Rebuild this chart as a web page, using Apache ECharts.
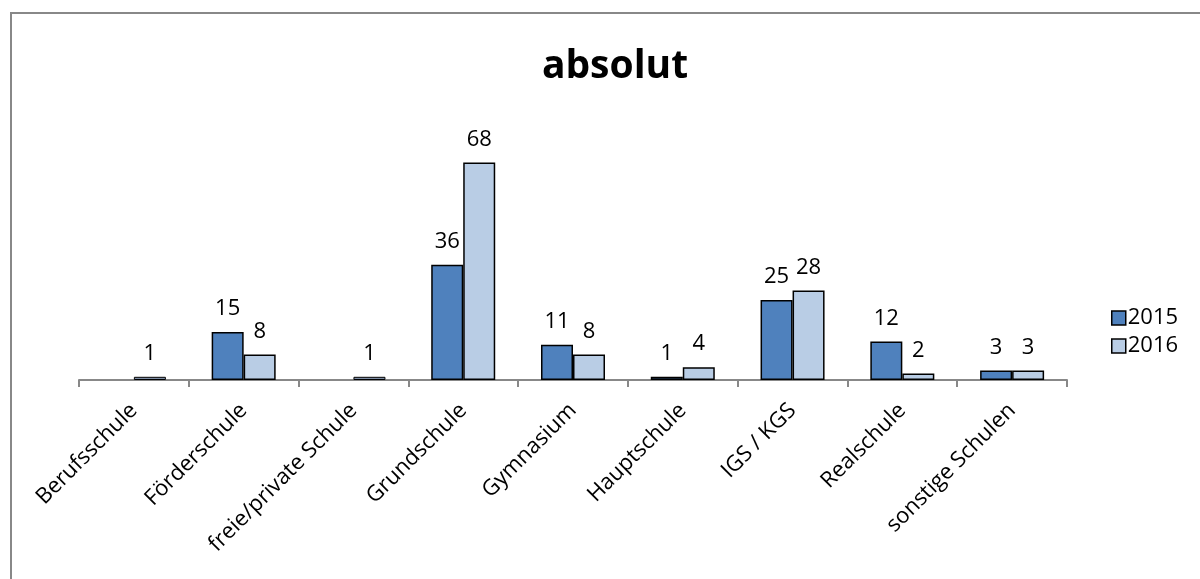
<!DOCTYPE html>
<html>
<head>
<meta charset="utf-8">
<script src="https://cdn.jsdelivr.net/npm/echarts@6/dist/echarts.min.js"></script>
<style>
  html, body { margin: 0; padding: 0; background: #fff; }
  #main { width: 1200px; height: 579px; }
</style>
</head>
<body>
<div id="main"></div>
<script>
// Schularten
var categories = ['Berufsschule', 'Förderschule', 'freie/private Schule', 'Grundschule', 'Gymnasium', 'Hauptschule', 'IGS / KGS', 'Realschule', 'sonstige Schulen'];
var values2015 = [null, 15, null, 36, 11, 1, 25, 12, 3];
var values2016 = [1, 8, 1, 68, 8, 4, 28, 2, 3];

var fontFam = '"Open Sans", Lato, sans-serif';
var myChart = echarts.init(document.getElementById('main'));

function barSeries(name, values, color) {
    return {
        name: name,
        type: 'bar',
        barWidth: 32,
        barGap: '0%',
        itemStyle: { color: color, borderColor: '#000', borderWidth: 1.5 },
        label: {
            show: true,
            position: 'top',
            distance: 12,
            color: '#000',
            fontSize: 22,
            fontFamily: fontFam
        },
        data: values.map(function(v, i) {
            // bei Schularten ohne 2015-Wert ist der kleine Balken grau
            if (name === '2016' && values2015[i] === null) {
                return { value: v, itemStyle: { color: '#7b8ba3', borderWidth: 1 } };
            }
            return v;
        })
    };
}

var option = {
    backgroundColor: '#fff',
    animation: false,
    title: {
        text: 'absolut',
        left: 610,
        top: 42,
        textAlign: 'center',
        textStyle: { fontSize: 39, fontWeight: 'bold', color: '#000', fontFamily: fontFam }
    },
    legend: {
        orient: 'vertical',
        left: 1106,
        top: 302,
        icon: 'rect',
        itemWidth: 14,
        itemHeight: 14,
        itemGap: 6,
        itemStyle: { borderColor: '#000', borderWidth: 1.5 },
        textStyle: { fontSize: 22, color: '#000', fontFamily: fontFam, padding: [0, 0, 0, -3] },
        data: ['2015', '2016']
    },
    grid: {
        left: 79,
        width: 988,
        top: 124,
        height: 256
    },
    xAxis: {
        type: 'category',
        data: categories,
        axisLine: { lineStyle: { color: '#888', width: 2 } },
        axisTick: { show: true, length: 7, lineStyle: { color: '#888', width: 2 } },
        axisLabel: {
            rotate: 45,
            margin: 27,
            interval: 0,
            color: '#000',
            fontSize: 22,
            fontFamily: fontFam
        }
    },
    yAxis: {
        type: 'value',
        min: 0,
        max: 80,
        show: false
    },
    graphic: [{
        type: 'rect',
        shape: { x: 11, y: 13, width: 1300, height: 700 },
        style: { fill: null, stroke: '#888', lineWidth: 2 },
        silent: true
    }],
    series: [
        barSeries('2015', values2015, '#4f81bd'),
        barSeries('2016', values2016, '#b9cde5')
    ]
};

myChart.setOption(option);
</script>
</body>
</html>
